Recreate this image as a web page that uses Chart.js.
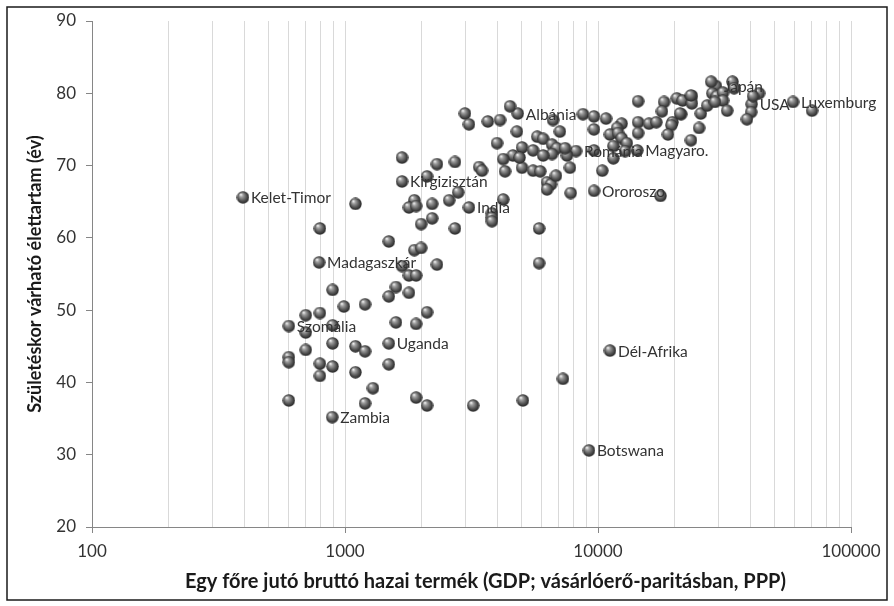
<!DOCTYPE html>
<html lang="hu">
<head>
<meta charset="utf-8">
<title>Születéskor várható élettartam és GDP</title>
<script src="https://cdn.jsdelivr.net/npm/chart.js@4/dist/chart.umd.min.js"></script>
<style>
  html, body { margin: 0; padding: 0; background: #ffffff; }
  canvas { display: block; }
</style>
</head>
<body>
<canvas id="chart" width="894" height="606"></canvas>
<script>
// Egy főre jutó GDP (PPP, USD) és születéskor várható élettartam (év) – országok
const gdp = [
  796, 1100, 1490, 1880, 2000, 1680, 2310, 1790, 1910, 893,
  1590, 1490, 1790, 990, 1200, 2110, 700, 796, 893, 700,
  1590, 1910, 893, 1100, 1200, 700, 600, 600, 796, 893,
  796, 1100, 1490, 1290, 600, 1200, 1910, 2110, 3210, 5050,
  7270, 1680, 2310, 2110, 1880, 1790, 1910, 2210, 2210, 2000,
  2580, 2720, 2800, 2720, 3810, 3810, 3810, 4220, 5850, 5850,
  17670, 7800, 6290, 6520, 6290, 3390, 3480, 4290, 5010, 5540,
  5910, 6820, 7750, 10400, 4490, 2980, 3090, 3670, 4100, 4780,
  5750, 6070, 3990, 5010, 5540, 6580, 6880, 6580, 4610, 4900,
  4220, 7070, 8720, 9640, 10760, 9640, 7540, 7410, 9640, 6070,
  14400, 18250, 20500, 21600, 23500, 23500, 17900, 21300, 25500, 27000,
  14400, 15900, 17000, 12400, 11900, 14400, 19700, 19500, 11150, 12000,
  18900, 25100, 23300, 12400, 13000, 11500, 11500, 12800, 28000, 34000,
  34500, 43300, 28300, 29500, 31200, 31200, 29000, 32400, 23300, 41000,
  40300, 38800, 70150, 21100, 6640
];
const lifeExp = [
  61.3, 64.7, 59.5, 58.3, 58.6, 56.1, 56.3, 54.8, 54.8, 52.8,
  53.2, 51.9, 52.4, 50.5, 50.8, 49.7, 49.3, 49.6, 47.9, 46.9,
  48.3, 48.1, 45.4, 45.0, 44.3, 44.5, 43.5, 42.8, 42.6, 42.2,
  40.9, 41.4, 42.5, 39.2, 37.5, 37.1, 37.9, 36.8, 36.8, 37.5,
  40.5, 71.1, 70.2, 68.5, 65.2, 64.2, 64.4, 64.7, 62.7, 61.9,
  65.2, 70.5, 66.3, 61.3, 63.4, 62.8, 62.3, 65.3, 61.3, 56.5,
  65.8, 66.2, 67.7, 67.4, 66.7, 69.8, 69.3, 69.2, 69.7, 69.3,
  69.2, 68.6, 69.7, 69.3, 78.2, 77.2, 75.7, 76.1, 76.3, 74.7,
  74.0, 73.7, 73.1, 72.5, 72.1, 72.9, 72.4, 71.6, 71.4, 71.1,
  70.9, 74.7, 77.1, 76.8, 76.5, 75.0, 71.4, 72.4, 72.1, 71.4,
  78.9, 78.8, 79.3, 79.0, 79.6, 78.6, 77.5, 77.1, 77.2, 78.3,
  76.0, 75.8, 76.0, 75.8, 75.2, 74.5, 76.0, 75.6, 74.3, 74.5,
  74.3, 75.2, 73.5, 73.8, 73.1, 72.7, 71.0, 72.0, 81.6, 81.6,
  80.7, 80.0, 80.0, 79.6, 80.1, 79.0, 78.8, 77.6, 79.7, 79.6,
  77.4, 76.4, 77.6, 77.2, 76.3
];

// Néven nevezett országok
const labeledNames = [
  'Kelet-Timor', 'Madagaszkár', 'Szomália', 'Uganda', 'Zambia',
  'Kirgizisztán', 'India', 'Albánia', 'Románia', 'Magyaro.',
  'Ororoszo', 'Japán', 'USA', 'Luxemburg', 'Dél-Afrika', 'Botswana'
];
const labeledGdp = [
  395, 790, 600, 1490, 890,
  1680, 3090, 4820, 8190, 14300,
  9650, 29260, 40500, 59000, 11150, 9210
];
const labeledLifeExp = [
  65.6, 56.6, 47.8, 45.4, 35.2,
  67.8, 64.2, 77.2, 72.0, 72.1,
  66.5, 81.0, 78.5, 78.8, 44.4, 30.6
];

// Logaritmikus x tengely osztásai
const xTickValues = [
  100, 200, 300, 400, 500, 600, 700, 800, 900,
  1000, 2000, 3000, 4000, 5000, 6000, 7000, 8000, 9000,
  10000, 20000, 30000, 40000, 50000, 60000, 70000, 80000, 90000,
  100000
];
const yMin = 20, yMax = 90, yStep = 10;

const xTitle = 'Egy főre jutó bruttó hazai termék (GDP; vásárlóerő-paritásban, PPP)';
const yTitle = 'Születéskor várható élettartam (év)';

const FONT = 'Lato, "Open Sans", "DejaVu Sans", sans-serif';

// Gömb alakú pontjel
function makeSphere(d) {
  const c = document.createElement('canvas');
  c.width = d; c.height = d;
  const g = c.getContext('2d');
  const r = d / 2;
  const grad = g.createRadialGradient(r - r * 0.35, r - r * 0.45, r * 0.05, r, r, r);
  grad.addColorStop(0, '#f2f2f2');
  grad.addColorStop(0.25, '#a0a0a0');
  grad.addColorStop(0.65, '#555555');
  grad.addColorStop(0.9, '#2e2e2e');
  grad.addColorStop(1, '#3a3a3a');
  g.fillStyle = grad;
  g.beginPath();
  g.arc(r, r, r - 0.3, 0, Math.PI * 2);
  g.fill();
  return c;
}
const sphere = makeSphere(13);

const isMajor = v => Math.abs(Math.log10(v) - Math.round(Math.log10(v))) < 1e-9;

// Országnevek a pontok jobb oldalán
const pointLabels = {
  id: 'pointLabels',
  afterDatasetsDraw(chart) {
    const meta = chart.getDatasetMeta(1);
    const c = chart.ctx;
    c.save();
    c.font = '15.5px ' + FONT;
    c.fillStyle = '#333333';
    c.textAlign = 'left';
    c.textBaseline = 'middle';
    meta.data.forEach((pt, i) => c.fillText(labeledNames[i], pt.x + 8, pt.y + 1));
    c.restore();
  }
};

// Vízszintes tengelycím, kissé jobbra tolva a rajzterület közepéhez képest
const xAxisTitle = {
  id: 'xAxisTitle',
  afterDraw(chart) {
    const c = chart.ctx;
    const area = chart.chartArea;
    c.save();
    c.font = 'bold 20px ' + FONT;
    c.fillStyle = '#1a1a1a';
    c.textAlign = 'center';
    c.textBaseline = 'middle';
    c.fillText(xTitle, (area.left + area.right) / 2 + 14, chart.height - 24);
    c.restore();
  }
};

// Keret a teljes ábra körül
const frame = {
  id: 'frame',
  afterDraw(chart) {
    const c = chart.ctx;
    c.save();
    c.strokeStyle = '#1a1a1a';
    c.lineWidth = 1.5;
    c.strokeRect(7, 7, 880, 593);
    c.restore();
  }
};

new Chart(document.getElementById('chart'), {
  type: 'scatter',
  data: {
    datasets: [
      {
        label: 'Országok',
        data: gdp.map((g, i) => ({ x: g, y: lifeExp[i] })),
        pointStyle: sphere,
        pointRadius: 6.5
      },
      {
        label: 'Kiemelt országok',
        data: labeledGdp.map((g, i) => ({ x: g, y: labeledLifeExp[i] })),
        pointStyle: sphere,
        pointRadius: 6.5
      }
    ]
  },
  options: {
    responsive: false,
    animation: false,
    layout: { padding: { left: 0, top: 21, right: 43, bottom: 0 } },
    plugins: {
      legend: { display: false },
      tooltip: { enabled: false }
    },
    scales: {
      x: {
        type: 'logarithmic',
        min: 100,
        max: 100000,
        afterBuildTicks: s => { s.ticks = xTickValues.map(v => ({ value: v, major: isMajor(v) })); },
        afterFit: s => { s.height = 79; },
        ticks: {
          autoSkip: false,
          maxRotation: 0,
          padding: 8,
          color: '#333333',
          font: { family: FONT, size: 17 },
          callback: v => (isMajor(v) ? String(v) : '')
        },
        grid: {
          color: ctx => (ctx.tick && ctx.tick.value === 100 ? 'rgba(0,0,0,0)' : '#d9d9d9'),
          lineWidth: 1,
          drawTicks: true,
          tickLength: 6,
          tickColor: ctx => (ctx.tick && isMajor(ctx.tick.value) ? '#868686' : 'rgba(0,0,0,0)')
        },
        border: { display: true, color: '#868686', width: 1 },
        title: { display: false, text: xTitle }
      },
      y: {
        type: 'linear',
        min: yMin,
        max: yMax,
        afterFit: s => { s.width = 92; },
        ticks: {
          stepSize: yStep,
          padding: 10,
          color: '#333333',
          font: { family: FONT, size: 17 }
        },
        grid: {
          drawOnChartArea: false,
          drawTicks: true,
          tickLength: 6,
          tickColor: '#868686'
        },
        border: { display: true, color: '#868686', width: 1 },
        title: {
          display: true,
          text: yTitle,
          color: '#1a1a1a',
          font: { family: FONT, size: 18, weight: 'bold' },
          padding: { top: 24, bottom: 0 }
        }
      }
    }
  },
  plugins: [pointLabels, xAxisTitle, frame]
});
</script>
</body>
</html>
